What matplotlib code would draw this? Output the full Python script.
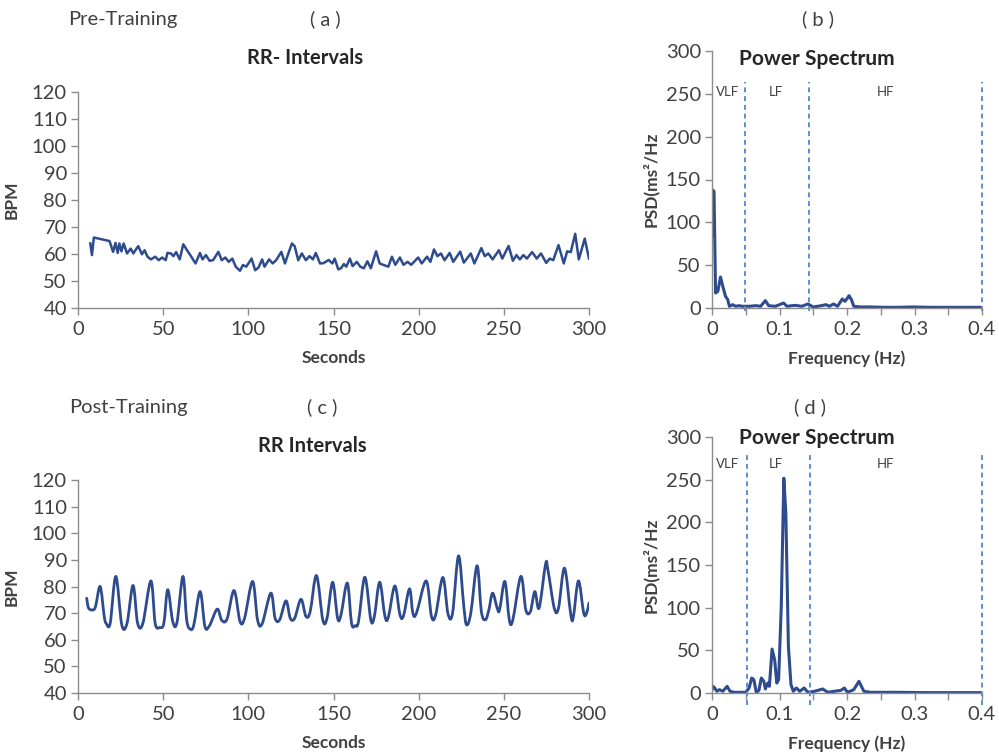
import matplotlib
matplotlib.use("Agg")
import matplotlib.pyplot as plt
from matplotlib.ticker import MultipleLocator
from matplotlib.path import Path
from matplotlib.patches import PathPatch
import numpy as np

plt.rcParams['font.family'] = ['Lato', 'DejaVu Sans']

# ---------------- data ----------------
pre_time = [7.2, 8.2, 9.3, 18.5, 20.6, 22.0, 23.3, 24.3, 25.5, 26.8, 28.8, 30.9, 32.5, 34.0, 35.4,
            37.5, 39.1, 40.8, 42.8, 45.3, 47.4, 49.4, 51.5, 52.5, 54.6, 56.0, 57.6, 59.7, 61.8,
            63.4, 65.9, 69.0, 71.6, 73.1, 75.1, 77.2, 79.3, 82.4, 84.4, 86.5, 88.5, 90.6, 92.6,
            95.1, 96.8, 98.8, 101.9, 104.0, 106.0, 108.1, 109.5, 112.2, 114.3, 116.3, 119.4,
            121.5, 123.5, 125.6, 127.2, 129.3, 131.4, 133.8, 135.9, 137.9, 139.6, 142.1, 144.1,
            147.2, 149.3, 150.7, 152.8, 154.4, 156.1, 157.5, 159.6, 161.2, 163.7, 165.7, 167.8,
            169.9, 171.9, 175.0, 177.1, 179.1, 182.2, 184.3, 186.3, 189.0, 191.1, 193.5, 195.6,
            199.7, 201.8, 204.9, 206.9, 209.0, 211.0, 213.1, 215.2, 218.2, 220.3, 224.4, 226.5,
            230.6, 232.7, 236.8, 238.8, 240.9, 243.4, 247.1, 249.1, 252.8, 255.3, 257.4, 259.4,
            261.5, 263.5, 266.6, 269.3, 271.8, 274.9, 276.9, 279.0, 282.1, 285.2, 287.2, 289.3,
            291.9, 294.0, 297.5, 300.0]
pre_bpm = [63.9, 59.6, 66.1, 64.8, 60.8, 64.1, 60.4, 63.9, 61.0, 63.9, 60.2, 62.0, 60.2, 61.7, 62.9,
           59.9, 61.4, 59.0, 58.0, 59.0, 57.7, 58.7, 57.7, 60.4, 60.2, 59.2, 60.7, 58.0, 63.6,
           62.0, 59.6, 56.5, 60.4, 58.0, 59.6, 57.5, 57.7, 60.8, 57.7, 58.7, 57.1, 58.3, 55.3,
           53.8, 55.9, 55.3, 58.3, 54.0, 55.0, 58.0, 55.3, 58.0, 56.5, 57.7, 60.8,
           56.5, 60.2, 63.9, 62.9, 57.7, 60.2, 57.7, 59.2, 58.0, 60.4, 56.5, 56.6,
           57.8, 56.5, 58.3, 54.3, 54.7, 56.3, 55.3, 58.3, 55.5, 57.1, 55.3, 54.7,
           57.3, 54.7, 61.0, 56.5, 56.0, 55.3, 59.0, 56.0, 58.7, 56.0, 57.1, 56.0,
           58.7, 56.5, 59.0, 57.1, 61.7, 59.2, 60.2, 57.7, 60.4, 57.1, 60.9, 56.8,
           60.2, 56.5, 62.2, 59.2, 60.2, 58.0, 61.4, 58.3, 63.0, 57.5, 59.6, 58.0,
           59.6, 58.3, 60.7, 58.3, 60.2, 56.7, 58.3, 57.7, 63.3, 56.5, 61.0, 60.7,
           67.5, 58.0, 65.7, 58.3]

post_time = [5.1, 6.2, 8.6, 10.3, 13.0, 15.4, 16.5, 18.9, 22.2, 25.7, 28.8, 32.3, 35.0, 38.1, 42.8,
             45.3, 48.0, 50.4, 52.7, 55.6, 58.1, 61.6, 63.8, 65.9, 68.0, 71.7, 74.5, 77.2, 81.7,
             84.4, 87.5, 91.6, 95.1, 97.8, 102.5, 105.4, 108.1, 113.2, 115.7, 118.4, 122.1, 124.6,
             127.2, 130.9, 133.8, 136.3, 140.0, 143.7, 146.2, 149.5, 152.4, 154.4, 158.1, 160.6,
             162.7, 164.7, 168.4, 171.9, 174.0, 177.1, 180.2, 182.2, 186.0, 189.0, 191.1, 194.6,
             196.6, 198.7, 204.4, 207.5, 210.0, 214.2, 217.2, 219.9, 223.4, 226.5, 228.1, 230.6,
             234.3, 236.8, 239.2, 241.2, 243.4, 246.1, 247.5, 250.6, 253.2, 255.3, 260.0, 262.9,
             265.6, 268.2, 270.7, 274.5, 275.9, 279.6, 282.1, 285.6, 289.3, 290.8, 293.8, 296.9,
             298.6, 300.0]
post_bpm = [75.6, 71.9, 71.2, 72.5, 80.0, 68.8, 66.2, 66.2, 83.8, 65.6, 66.2, 80.4, 66.2, 66.2, 82.1,
            66.2, 64.6, 66.2, 78.8, 66.9, 66.5, 83.8, 67.5, 64.0, 65.6, 78.1, 65.0, 65.3, 71.5,
            67.3, 67.8, 78.5, 66.9, 68.1, 81.9, 67.5, 66.0, 77.5, 68.1, 67.5, 74.6, 68.1,
            68.1, 75.2, 68.8, 70.6, 84.1, 67.5, 68.1, 81.6, 68.1, 69.4, 81.3, 66.2,
            65.3, 66.9, 83.5, 67.5, 68.8, 81.6, 68.8, 68.5, 80.2, 69.4, 69.0, 79.1,
            70.0, 70.0, 82.1, 68.8, 69.4, 83.4, 69.8, 70.0, 91.5, 72.5, 65.6, 70.0,
            87.8, 70.6, 67.5, 71.2, 77.5, 71.9, 71.2, 81.9, 67.5, 67.5, 83.8, 71.2,
            70.6, 78.1, 71.9, 88.4, 86.2, 71.9, 71.9, 86.9, 69.4, 68.5, 82.1, 70.0,
            70.0, 73.8]

pre_freq = [0.0, 0.0015, 0.003, 0.0053, 0.0087, 0.0126, 0.016, 0.020, 0.0233, 0.0258, 0.0306, 0.035,
            0.040, 0.045, 0.055, 0.065, 0.072, 0.079, 0.084, 0.094, 0.106, 0.111, 0.123, 0.133,
            0.142, 0.150, 0.162, 0.169, 0.174, 0.180, 0.186, 0.193, 0.197, 0.2007, 0.203, 0.2066,
            0.210, 0.220, 0.235, 0.254, 0.274, 0.298, 0.322, 0.351, 0.400]
pre_psd = [83.8, 137.5, 136.0, 17.5, 19.5, 36.2, 25.3, 13.6, 9.7, 2.0, 3.9, 2.0,
           2.7, 2.0, 2.0, 2.7, 2.0, 8.6, 2.7, 2.0, 5.8, 2.0, 3.1, 2.0,
           4.7, 1.2, 2.7, 3.9, 2.0, 4.7, 2.0, 10.5, 7.8, 11.7, 14.4, 9.7,
           2.0, 1.2, 1.2, 0.8, 0.8, 1.2, 0.8, 0.8, 0.8]

post_freq = [0.0, 0.0015, 0.004, 0.0073, 0.011, 0.016, 0.0224, 0.0267, 0.033, 0.043, 0.050, 0.055,
             0.0588, 0.062, 0.0656, 0.0695, 0.073, 0.0768, 0.079, 0.0826, 0.085, 0.089, 0.0928,
             0.096, 0.0987, 0.1026, 0.1064, 0.1094, 0.1132, 0.117, 0.1205, 0.125, 0.130, 0.1366,
             0.142, 0.152, 0.164, 0.1716, 0.181, 0.191, 0.196, 0.2007, 0.210, 0.2177, 0.225, 0.235,
             0.274, 0.322, 0.400]
post_psd = [3.9, 7.8, 5.9, 2.0, 3.9, 2.0, 7.8, 2.0, 0.8, 0.8, 0.8, 5.9,
            17.6, 15.6, 0.8, 3.1, 17.6, 13.7, 4.7, 11.7, 7.8, 51.5, 39.0,
            11.7, 15.6, 101.0, 251.7, 210.7, 54.6, 9.8, 2.0, 5.9, 2.0, 5.9,
            0.8, 2.0, 4.7, 0.8, 2.0, 3.1, 5.9, 0.8, 3.9, 13.7, 2.0, 0.8,
            0.8, 0.4, 0.4]

band_edges_pre = [0.049, 0.144, 0.4]
band_edges_post = [0.0515, 0.1448, 0.4]
band_names = ['VLF', 'LF', 'HF']
band_label_x = [0.023, 0.095, 0.257]

# ---------------- styling ----------------
W, H = 999, 754
fig = plt.figure(figsize=(W / 100, H / 100), dpi=100)
LINE = '#2E4B8D'
DASH = '#5B8ED8'
AXC = '#8C8C8C'
TXT = '#404040'
TITLE = '#262626'


def px_axes(l, t, r, b):
    return fig.add_axes([l / W, 1 - b / H, (r - l) / W, (b - t) / H])


def smooth_line(ax, x, y, **kw):
    """Excel-style smoothed line: cubic Bezier segments through the data points."""
    pts = ax.transData.transform(np.column_stack([x, y]))
    n = len(pts)
    verts = [pts[0]]
    codes = [Path.MOVETO]
    for i in range(n - 1):
        p0 = pts[i - 1] if i > 0 else pts[i]
        p1 = pts[i]
        p2 = pts[i + 1]
        p3 = pts[i + 2] if i + 2 < n else pts[i + 1]
        c1 = p1 + (p2 - p0) / 6.0
        c2 = p2 - (p3 - p1) / 6.0
        verts += [c1, c2, p2]
        codes += [Path.CURVE4] * 3
    verts = ax.transData.inverted().transform(np.array(verts))
    patch = PathPatch(Path(verts, codes), fill=False, edgecolor=LINE,
                      joinstyle='round', capstyle='round', **kw)
    ax.add_patch(patch)


def style(ax):
    for s in ['top', 'right']:
        ax.spines[s].set_visible(False)
    for s in ['left', 'bottom']:
        ax.spines[s].set_color(AXC)
        ax.spines[s].set_linewidth(1.0)
    ax.tick_params(axis='both', which='both', color=AXC, length=5, width=1.0,
                   labelsize=14.5, labelcolor=TXT, direction='out')
    ax.tick_params(axis='x', pad=4)
    ax.tick_params(axis='y', pad=3)


def rr_panel(ax, t, v, smooth):
    ax.set_xlim(0, 300)
    ax.set_ylim(40, 120)
    if smooth:
        smooth_line(ax, t, v, lw=2.0)
    else:
        ax.plot(t, v, color=LINE, lw=1.8, solid_joinstyle='round')
    ax.xaxis.set_major_locator(MultipleLocator(50))
    ax.yaxis.set_major_locator(MultipleLocator(10))
    style(ax)
    ax.set_xlabel('Seconds', fontsize=12.5, fontweight='bold', color=TXT, labelpad=9)
    ax.set_ylabel('BPM', fontsize=12.5, fontweight='bold', color=TXT, labelpad=9)


def psd_panel(ax, f, p, edges, dash_bottom, dash_top, label_y):
    ax.set_xlim(0, 0.4)
    ax.set_ylim(0, 300)
    ax.plot(f, p, color=LINE, lw=2.2, solid_joinstyle='round')
    ax.set_xticks([0, 0.1, 0.2, 0.3, 0.4])
    ax.set_xticklabels(['0', '0.1', '0.2', '0.3', '0.4'])
    ax.xaxis.set_minor_locator(MultipleLocator(0.05))
    ax.yaxis.set_major_locator(MultipleLocator(50))
    style(ax)
    for e in edges:
        ax.vlines(e, dash_bottom, dash_top, colors=DASH, linestyles=(0, (2.5, 2)), lw=1.4, clip_on=False)
    for name, x in zip(band_names, band_label_x):
        ax.text(x, label_y, name, fontsize=9.5, color=TXT, ha='center', va='center')
    ax.set_xlabel('Frequency (Hz)', fontsize=12.5, fontweight='bold', color=TXT, labelpad=9)
    ax.set_ylabel('PSD(ms²/Hz', fontsize=12.5, fontweight='bold', color=TXT, labelpad=5)


ax_a = px_axes(78, 92, 589, 308)
rr_panel(ax_a, pre_time, pre_bpm, smooth=False)
ax_b = px_axes(712, 51, 982, 308)
psd_panel(ax_b, pre_freq, pre_psd, band_edges_pre, -3, 264, 252)
ax_c = px_axes(78, 480, 589, 693)
rr_panel(ax_c, post_time, post_bpm, smooth=True)
ax_d = px_axes(712, 437, 982, 693)
psd_panel(ax_d, post_freq, post_psd, band_edges_post, -14, 281, 268)


def ftext(x, y, s, **kw):
    fig.text(x / W, 1 - y / H, s, ha='center', va='center', **kw)


ftext(123, 19, 'Pre-Training', fontsize=14.5, color=TXT)
ftext(325, 19, '( a )', fontsize=14.5, color=TXT)
ftext(818, 19, '( b )', fontsize=14.5, color=TXT)
ftext(128, 407, 'Post-Training', fontsize=14.5, color=TXT)
ftext(322, 407, '( c )', fontsize=14.5, color=TXT)
ftext(810, 407, '( d )', fontsize=14.5, color=TXT)
ftext(305, 58, 'RR- Intervals', fontsize=14.5, fontweight='bold', color=TITLE)
ftext(312, 446, 'RR Intervals', fontsize=14.5, fontweight='bold', color=TITLE)
ftext(817, 59, 'Power Spectrum', fontsize=15, fontweight='bold', color=TITLE)
ftext(817, 438, 'Power Spectrum', fontsize=15, fontweight='bold', color=TITLE)

fig.savefig('out.png', dpi=100, facecolor='white')
